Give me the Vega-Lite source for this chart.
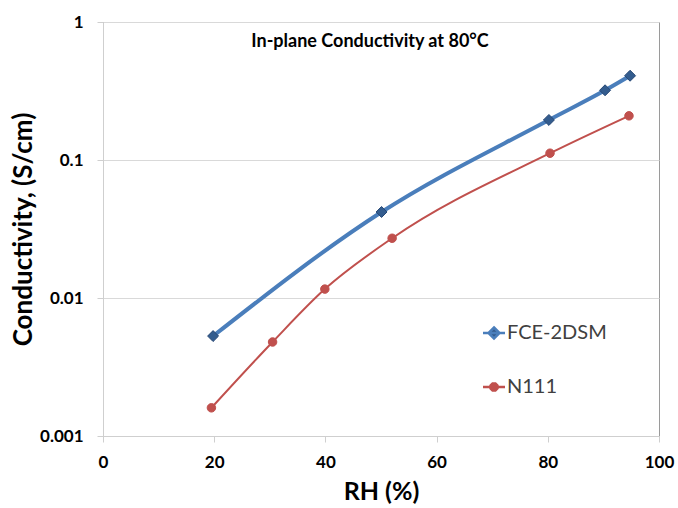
{
  "$schema": "https://vega.github.io/schema/vega-lite/v6.json",
  "width": 556,
  "height": 414,
  "autosize": {"type": "none"},
  "padding": {"left": 103, "top": 22, "right": 19, "bottom": 72},
  "background": "white",
  "config": {
    "font": "Lato",
    "view": {"stroke": "#9a9a9a", "strokeWidth": 1}
  },
  "title": {
    "text": "In-plane Conductivity at 80°C",
    "font": "Lato",
    "fontSize": 18,
    "fontWeight": "bold",
    "color": "#000000",
    "anchor": "middle",
    "frame": "group",
    "baseline": "alphabetic",
    "dx": -11,
    "offset": -52
  },
  "data": {
    "values": [
      {"series": "FCE-2DSM", "RH": 19.8, "cond": 0.0053},
      {"series": "FCE-2DSM", "RH": 50.1, "cond": 0.042},
      {"series": "FCE-2DSM", "RH": 80.2, "cond": 0.195},
      {"series": "FCE-2DSM", "RH": 90.3, "cond": 0.32},
      {"series": "FCE-2DSM", "RH": 94.8, "cond": 0.408},
      {"series": "N111", "RH": 19.5, "cond": 0.0016},
      {"series": "N111", "RH": 30.5, "cond": 0.0048},
      {"series": "N111", "RH": 39.9, "cond": 0.0116},
      {"series": "N111", "RH": 52.0, "cond": 0.0271},
      {"series": "N111", "RH": 80.4, "cond": 0.112},
      {"series": "N111", "RH": 94.6, "cond": 0.209}
    ]
  },
  "encoding": {
    "x": {
      "field": "RH",
      "type": "quantitative",
      "scale": {"domain": [0, 100], "nice": false, "zero": false},
      "axis": {
        "title": "RH (%)",
        "values": [0, 20, 40, 60, 80, 100],
        "grid": false,
        "domainColor": "#cfcfcf",
        "tickColor": "#cfcfcf",
        "tickSize": 6,
        "labelFont": "Lato",
        "labelFontSize": 17,
        "labelFontWeight": "bold",
        "labelColor": "#000000",
        "labelPadding": 12,
        "labelFlush": false,
        "titleFont": "Lato",
        "titleFontSize": 25,
        "titleFontWeight": "bold",
        "titleColor": "#000000",
        "titlePadding": 9
      }
    },
    "y": {
      "field": "cond",
      "type": "quantitative",
      "scale": {"type": "log", "domain": [0.001, 1], "nice": false},
      "axis": {
        "title": "Conductivity, (S/cm)",
        "values": [0.001, 0.01, 0.1, 1],
        "format": "~g",
        "grid": true,
        "gridColor": "#d9d9d9",
        "domainColor": "#cfcfcf",
        "tickColor": "#cfcfcf",
        "tickSize": 6,
        "labelFont": "Lato",
        "labelFontSize": 17,
        "labelFontWeight": "bold",
        "labelColor": "#000000",
        "labelPadding": 14,
        "labelFlush": false,
        "titleFont": "Lato",
        "titleFontSize": 26,
        "titleFontWeight": "bold",
        "titleColor": "#000000",
        "titlePadding": 3
      }
    }
  },
  "layer": [
    {
      "mark": {"type": "line", "interpolate": "monotone"},
      "encoding": {
        "color": {
          "field": "series",
          "type": "nominal",
          "scale": {"domain": ["FCE-2DSM", "N111"], "range": ["#4A7EBB", "#C0504D"]},
          "legend": null
        },
        "strokeWidth": {
          "field": "series",
          "type": "nominal",
          "scale": {"domain": ["FCE-2DSM", "N111"], "range": [4, 2]},
          "legend": null
        }
      }
    },
    {
      "mark": {"type": "point", "filled": true, "opacity": 1, "strokeWidth": 1},
      "encoding": {
        "shape": {
          "field": "series",
          "type": "nominal",
          "scale": {"domain": ["FCE-2DSM", "N111"], "range": ["diamond", "circle"]},
          "legend": null
        },
        "fill": {
          "field": "series",
          "type": "nominal",
          "scale": {"domain": ["FCE-2DSM", "N111"], "range": ["#335C8E", "#C0504D"]},
          "legend": null
        },
        "stroke": {
          "field": "series",
          "type": "nominal",
          "scale": {"domain": ["FCE-2DSM", "N111"], "range": ["#264774", "#C0504D"]},
          "legend": null
        },
        "size": {
          "field": "series",
          "type": "nominal",
          "scale": {"domain": ["FCE-2DSM", "N111"], "range": [120, 72]},
          "legend": null
        }
      }
    },
    {
      "transform": [{"filter": "datum.RH < 0"}],
      "mark": {"type": "point", "filled": true, "opacity": 1, "strokeWidth": 2.5},
      "encoding": {
        "shape": {
          "field": "series",
          "type": "nominal",
          "scale": {
            "domain": ["FCE-2DSM", "N111"],
            "range": [
              "M-2.2,0H2.2M0,-1.1L1.1,0L0,1.1L-1.1,0Z",
              "M-2.2,0H2.2M0.693,0.287L0.287,0.693L-0.287,0.693L-0.693,0.287L-0.693,-0.287L-0.287,-0.693L0.287,-0.693L0.693,-0.287Z"
            ]
          },
          "legend": {
            "title": null,
            "orient": "none",
            "legendX": 381,
            "legendY": 301,
            "padding": 0,
            "symbolSize": 100,
            "symbolStrokeWidth": 2.5,
            "labelFont": "Lato",
            "labelFontSize": 20,
            "labelColor": "#404040",
            "labelOffset": 3,
            "rowPadding": 33
          }
        },
        "fill": {
          "field": "series",
          "type": "nominal",
          "scale": {"domain": ["FCE-2DSM", "N111"], "range": ["#335C8E", "#C0504D"]}
        },
        "stroke": {
          "field": "series",
          "type": "nominal",
          "scale": {"domain": ["FCE-2DSM", "N111"], "range": ["#4A7EBB", "#C0504D"]}
        }
      }
    }
  ],
  "resolve": {
    "scale": {"shape": "independent", "fill": "independent", "stroke": "independent"}
  }
}
